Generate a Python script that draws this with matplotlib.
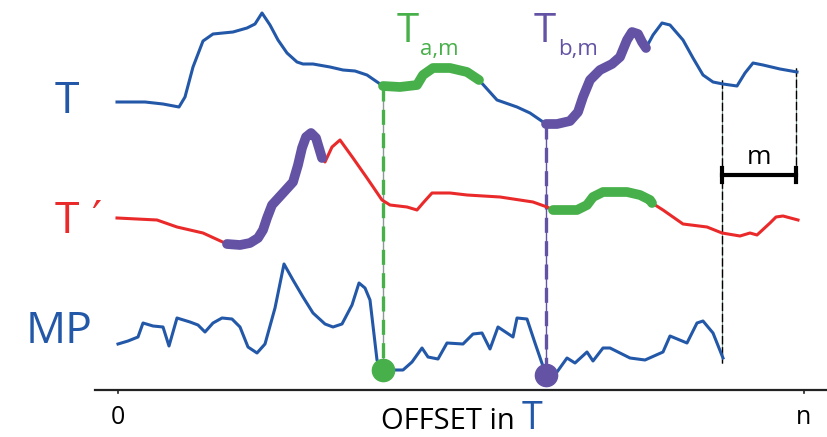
import numpy as np
import matplotlib.pyplot as plt

# schematic, in pixel units (x = offset, y grows downwards)
t_x = [117, 145, 163, 179, 185, 193, 203, 213, 233, 247, 255, 262, 270, 278, 287, 297, 303, 313,
       330, 343, 355, 367, 383, 400, 417, 423, 433, 450, 467, 479, 497, 517, 530, 546, 557, 570,
       578, 583, 590, 600, 612, 620, 627, 632, 638, 642, 646, 653, 662, 670, 683, 693, 703, 713,
       723, 737, 745, 753, 763, 780, 797]
t_y = [102, 102, 104, 107, 97, 67, 41, 34, 32, 28, 24, 13, 25, 40, 53, 62, 64, 64,
       67, 70, 71, 75, 86, 87, 85, 75, 68, 68, 72, 80, 100, 107, 113, 124, 124, 121,
       112, 97, 80, 70, 64, 57, 40, 32, 34, 42, 48, 35, 23, 25, 40, 58, 75, 82,
       84, 86, 73, 63, 65, 69, 72]

tp_x = [117, 157, 177, 203, 227, 240, 250, 258, 263, 267, 272, 283, 293, 298, 302, 306, 311, 316,
        322, 325, 332, 340, 353, 367, 382, 390, 407, 417, 423, 432, 450, 467, 500, 533, 547, 553,
        577, 587, 593, 603, 627, 640, 650, 652, 663, 683, 707, 722, 740, 750, 757, 770, 776, 783,
        798]
tp_y = [218, 220, 227, 233, 244, 245, 243, 238, 230, 218, 205, 193, 182, 165, 148, 137, 133, 138,
        158, 162, 147, 140, 158, 178, 200, 205, 207, 210, 203, 193, 193, 195, 197, 202, 207, 210,
        210, 205, 197, 192, 192, 195, 200, 203, 210, 224, 227, 233, 236, 233, 235, 223, 217, 216,
        220]

mp_x = [118, 128, 138, 143, 153, 163, 169, 177, 190, 198, 205, 213, 222, 232, 240, 248, 257, 265,
        275, 284, 293, 303, 313, 325, 333, 342, 352, 359, 365, 370, 377, 383, 393, 403, 412, 422,
        428, 438, 447, 463, 473, 482, 490, 498, 513, 517, 527, 535, 546, 557, 567, 575, 587, 593,
        603, 610, 630, 645, 663, 670, 687, 697, 703, 713, 723]
mp_y = [344, 341, 337, 323, 326, 327, 346, 318, 322, 325, 332, 323, 318, 319, 327, 347, 353, 344,
        308, 264, 280, 297, 313, 324, 327, 324, 305, 283, 288, 300, 360, 370, 370, 370, 362, 348,
        357, 359, 343, 344, 334, 333, 349, 327, 337, 318, 319, 343, 375, 372, 358, 363, 352, 361,
        348, 348, 358, 360, 352, 336, 343, 323, 321, 333, 358]

a_off, b_off, m = 383, 546, 74
n_end = 796
tick_pos = [118, 804]
tick_labels = ['0', 'n']

blue = '#2358a8'
red = '#ea2a2a'
green = '#48b04a'
purple = '#6453a4'

plt.rcParams['font.family'] = ['Open Sans', 'DejaVu Sans']

fig = plt.figure(figsize=(8.28, 4.37), dpi=100)
ax = fig.add_axes([0, 0, 1, 1])
ax.set_xlim(0, 828)
ax.set_ylim(437, 0)
ax.axis('off')

t_x, t_y = np.array(t_x), np.array(t_y)
tp_x, tp_y = np.array(tp_x), np.array(tp_y)
mp_x, mp_y = np.array(mp_x), np.array(mp_y)

ax.plot(t_x, t_y, color=blue, lw=2.2, zorder=3)
ax.plot(tp_x, tp_y, color=red, lw=2.2, zorder=3)
ax.plot(mp_x, mp_y, color=blue, lw=2.2, zorder=3)


def highlight(x, y, start, stop, color):
    sel = (x >= start) & (x <= stop)
    ax.plot(x[sel], y[sel], color=color, lw=7, solid_capstyle='round',
            solid_joinstyle='round', zorder=4)


highlight(t_x, t_y, a_off, 479, green)
highlight(t_x, t_y, b_off, 646, purple)
highlight(tp_x, tp_y, 227, 322, purple)
highlight(tp_x, tp_y, 553, 652, green)

# vertical markers down to the matrix profile minima
for off, col in [(a_off, green), (b_off, purple)]:
    y_top = np.interp(off, t_x, t_y)
    y_bot = np.interp(off, mp_x, mp_y)
    ax.plot([off, off], [y_top, y_bot], color='#8a9a94' if col == green else col,
            lw=1, zorder=2)
    ax.plot([off, off], [y_top, y_bot], color=col, lw=2.4, dashes=(4.5, 2.5), zorder=2)
    ax.plot(off, y_bot, 'o', color=col, ms=16, zorder=5)

# window of length m at the end
for x0, y1 in [(n_end - m, 363), (n_end, 180)]:
    ax.plot([x0, x0], [np.interp(x0, t_x, t_y) - 4, y1], color='#7fa08f', lw=0.8, zorder=2)
    ax.plot([x0, x0], [np.interp(x0, t_x, t_y) - 4, y1], color='black', lw=1,
            dashes=(6, 2), zorder=2)
ax.plot([n_end - m, n_end], [175, 175], color='black', lw=3, zorder=3)
ax.plot([n_end - m, n_end - m], [168, 182], color='black', lw=3, zorder=3)
ax.plot([n_end, n_end], [168, 182], color='black', lw=3, zorder=3)
ax.text(n_end - m / 2, 164, 'm', fontsize=19, ha='center', va='baseline')

# bottom axis
ax.plot([95, 828], [390, 390], color='#222222', lw=1.6)
for p, lab in zip(tick_pos, tick_labels):
    ax.plot([p, p], [390, 393], color='#222222', lw=1.2)
    ax.text(p, 424, lab, fontsize=18, ha='center', va='baseline')
ax.text(515, 429, 'OFFSET in', fontsize=21, ha='right', va='baseline')
ax.text(522, 429, 'T', fontsize=27, color=blue, ha='left', va='baseline')

# series labels
ax.text(67, 113, 'T', fontsize=32, color=blue, ha='center', va='baseline')
ax.text(67, 233, 'T', fontsize=32, color=red, ha='center', va='baseline')
ax.text(96, 233, '′', fontsize=32, color=red, ha='center', va='baseline',
        family=['DejaVu Sans'])
ax.text(59, 343, 'MP', fontsize=32, color=blue, ha='center', va='baseline')

ax.text(408, 42, 'T', fontsize=29, color=green, ha='center', va='baseline')
ax.text(420, 55, 'a,m', fontsize=16, color=green, ha='left', va='baseline')
ax.text(545, 42, 'T', fontsize=29, color=purple, ha='center', va='baseline')
ax.text(558, 55, 'b,m', fontsize=16, color=purple, ha='left', va='baseline')

fig.savefig('out.png', dpi=100)
